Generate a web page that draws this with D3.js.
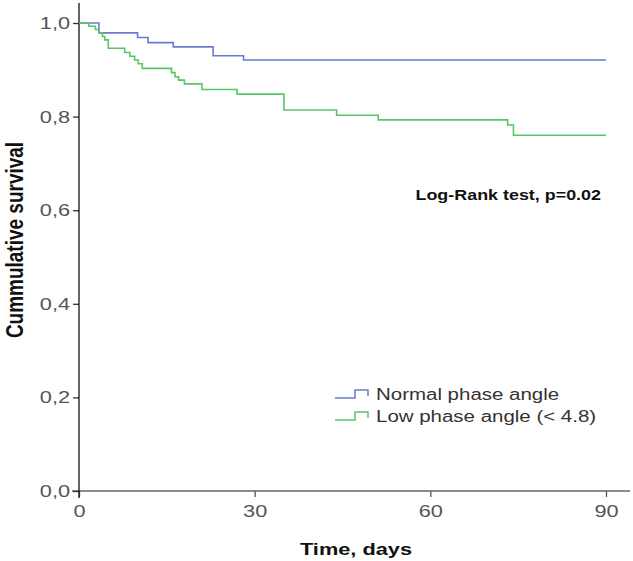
<!DOCTYPE html>
<html><head><meta charset="utf-8">
<script src="https://cdn.jsdelivr.net/npm/d3@7"></script>
<style>body{margin:0;background:#fff}</style>
</head><body>
<svg id="c" width="633" height="561"></svg>
<script>
const xTicks = [0, 30, 60, 90];
const yTicks = [0, 0.2, 0.4, 0.6, 0.8, 1.0];
const seriesNames = ["Normal phase angle", "Low phase angle (< 4.8)"];
const normalTimes = [0, 3.4, 10.0, 11.8, 16.1, 22.9, 28.1, 90];
const normalSurv  = [1, 0.979, 0.969, 0.958, 0.949, 0.930, 0.921, 0.921];
const lowTimes = [0, 1.7, 2.8, 3.4, 4.0, 4.4, 5.0, 7.8, 8.7, 9.5, 10.1, 10.8, 15.8, 16.4, 17.0, 18.0, 21.0, 27.0, 35.0, 44.0, 51.1, 73.2, 74.2, 90];
const lowSurv  = [1, 0.993, 0.986, 0.979, 0.971, 0.964, 0.946, 0.937, 0.929, 0.921, 0.913, 0.903, 0.894, 0.885, 0.878, 0.870, 0.858, 0.848, 0.814, 0.803, 0.793, 0.782, 0.760, 0.760];
const colors = ["#6a7ccf", "#55c765"];
const SX = 1.28; // horizontal stretch of the original picture's text
const FONT = "Liberation Sans, Arial, sans-serif";

const svg = d3.select("#c");
const x = d3.scaleLinear().domain([0, 90]).range([79, 606]);
const y = d3.scaleLinear().domain([0, 1]).range([491, 23]);

// axes
const xAxis = svg.append("g").attr("transform", "translate(0,491)")
  .call(d3.axisBottom(x).tickValues(xTicks).tickSize(6).tickPadding(8).tickFormat(d3.format("d")));
xAxis.select(".domain").remove();
xAxis.selectAll("line").attr("stroke", "#555").attr("stroke-width", 1.3);
xAxis.selectAll("text").attr("font-family", FONT).attr("font-size", 17).attr("fill", "#555")
  .attr("transform", `scale(${SX},1)`);
svg.append("line").attr("x1", 72).attr("x2", 630).attr("y1", 491).attr("y2", 491)
  .attr("stroke", "#666").attr("stroke-width", 1.3);

const yAxis = svg.append("g").attr("transform", "translate(79,0)")
  .call(d3.axisLeft(y).tickValues(yTicks).tickSize(6).tickPadding(1).tickFormat(d => d3.format(".1f")(d).replace(".", ",")));
yAxis.select(".domain").remove();
yAxis.selectAll("line").attr("stroke", "#333").attr("stroke-width", 1.3);
yAxis.selectAll("text").attr("font-family", FONT).attr("font-size", 17).attr("fill", "#555")
  .attr("transform", `scale(${SX},1)`);
svg.append("line").attr("x1", 79).attr("x2", 79).attr("y1", 3).attr("y2", 498)
  .attr("stroke", "#111").attr("stroke-width", 1.3);

// curves
const line = d3.line().x(d => x(d[0])).y(d => y(d[1])).curve(d3.curveStepAfter);
const normal = normalTimes.map((t, i) => [t, normalSurv[i]]);
const low = lowTimes.map((t, i) => [t, lowSurv[i]]);
[normal, low].forEach((data, i) => {
  svg.append("path").datum(data).attr("d", line).attr("fill", "none")
    .attr("stroke", colors[i]).attr("stroke-width", 1.6);
});

// axis titles
svg.append("text").attr("transform", `translate(356,555) scale(${SX},1)`).attr("text-anchor", "middle")
  .attr("font-family", FONT).attr("font-weight", "bold").attr("font-size", 17).attr("fill", "#111")
  .text("Time, days");
svg.append("text").attr("transform", `translate(23,240) scale(1.3,1) rotate(-90)`).attr("text-anchor", "middle")
  .attr("font-family", FONT).attr("font-weight", "bold").attr("font-size", 19).attr("fill", "#111")
  .text("Cummulative survival");

// annotation
svg.append("text").attr("transform", `translate(601,200) scale(${SX},1)`).attr("text-anchor", "end")
  .attr("font-family", FONT).attr("font-weight", "bold").attr("font-size", 14).attr("fill", "#111")
  .text("Log-Rank test, p=0.02");

// legend
const lg = svg.append("g");
seriesNames.forEach((name, i) => {
  const yy = 394 + i * 22;
  lg.append("path").attr("d", `M335,${yy+4}H355V${yy-4}H368V${yy+2}`).attr("fill", "none")
    .attr("stroke", colors[i]).attr("stroke-width", 1.5);
  lg.append("text").attr("transform", `translate(376,${yy + 6}) scale(${SX},1)`)
    .attr("font-family", FONT).attr("font-size", 16).attr("fill", "#333").text(name);
});
</script>
</body></html>
